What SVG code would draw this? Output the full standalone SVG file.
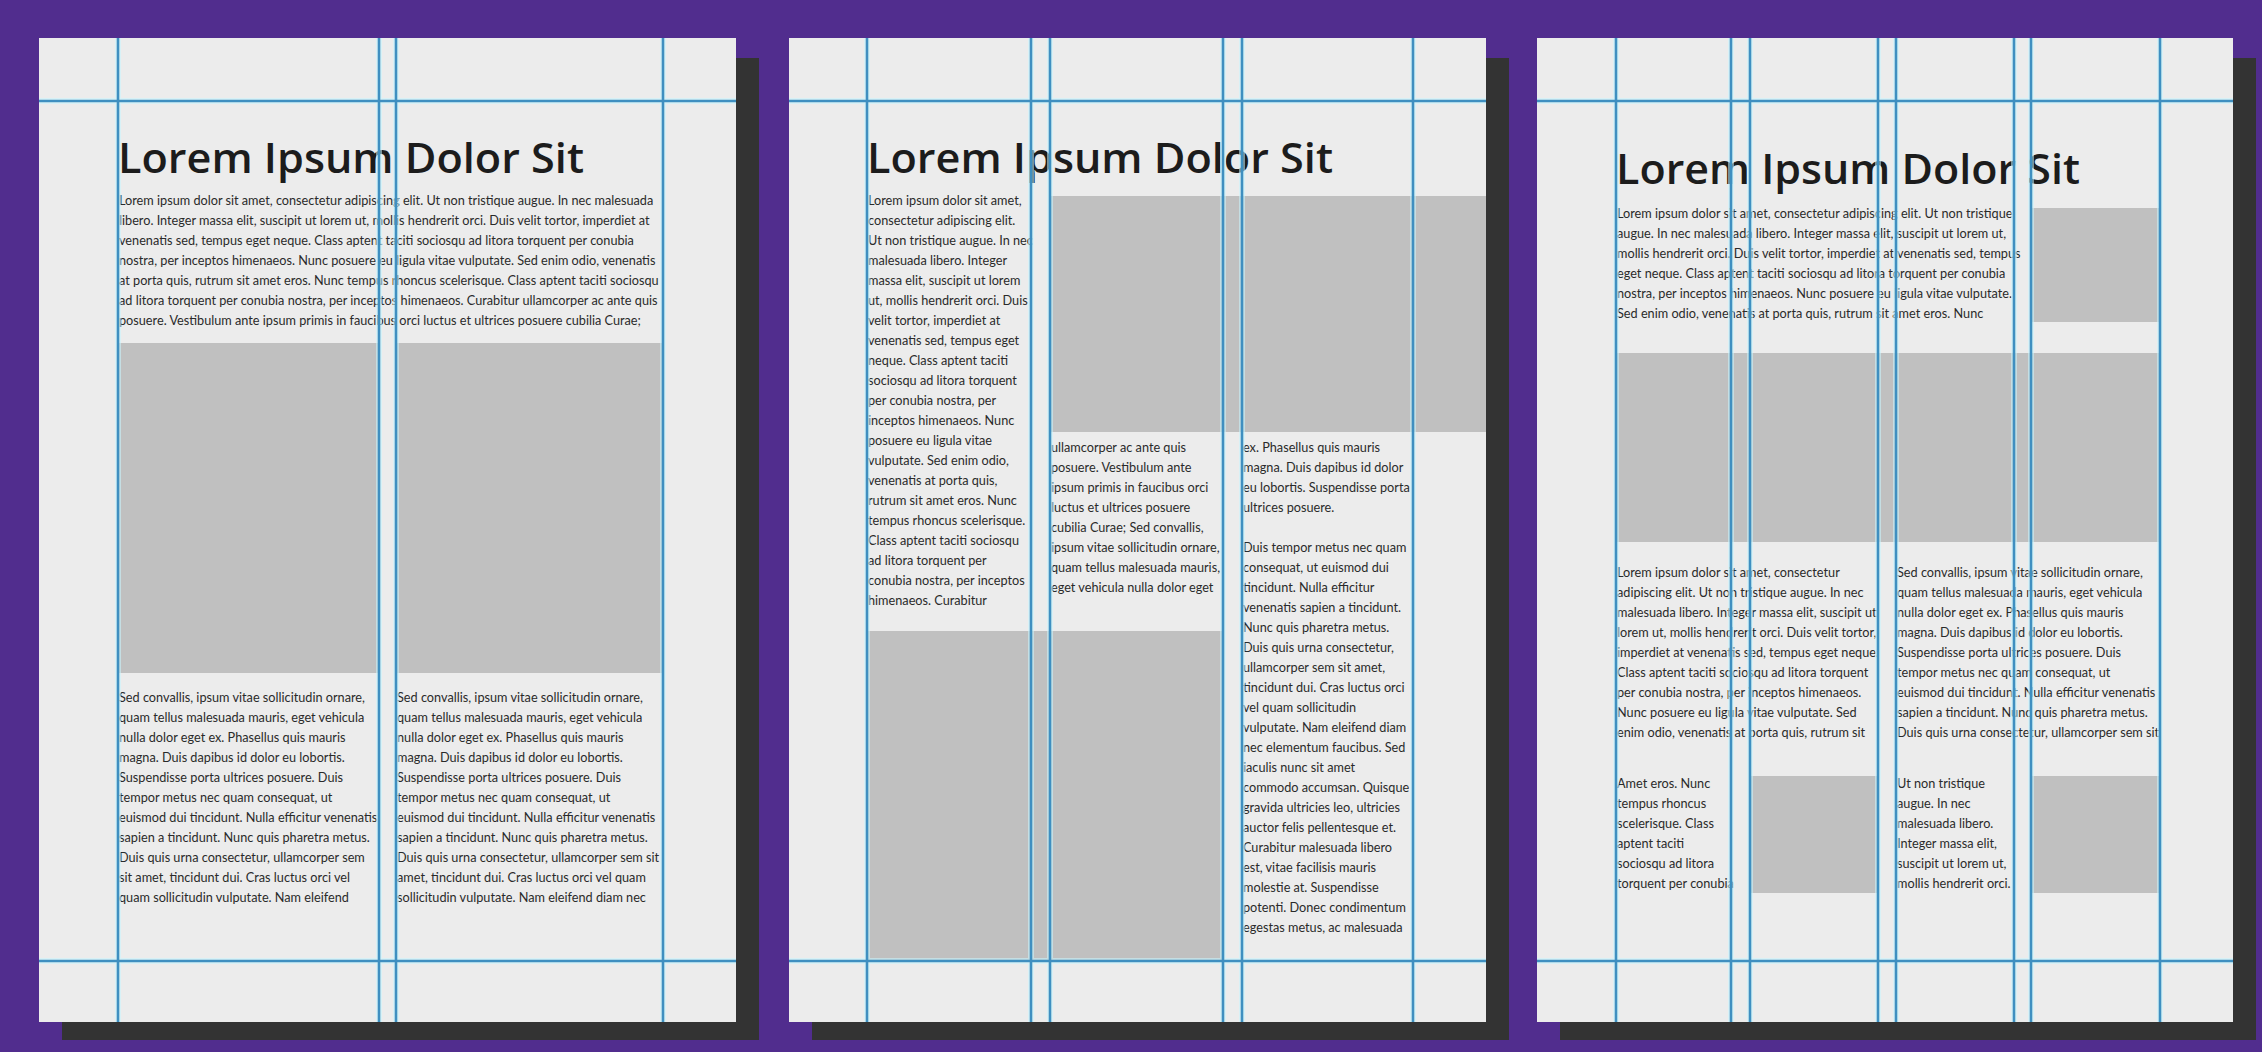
<svg xmlns="http://www.w3.org/2000/svg" width="2262" height="1052" viewBox="0 0 2262 1052">
<style>
.bg{fill:#512d8e}
.shadow{fill:#333333}
.sheet{fill:#ececec}
.img{fill:#c0c0c0}
.title{font-family:"Open Sans","Liberation Sans",sans-serif;font-weight:600;font-size:41px;fill:#1c1c1c}
.body{font-family:Lato,"Liberation Sans",sans-serif;font-size:12.7px;fill:#2a2a2a}
.halo{stroke:#c8f6ff;stroke-width:6;stroke-opacity:0.55;fill:none}
.core{stroke:#3f8fc0;stroke-width:2.6;fill:none}
</style>
<rect class="bg" x="0" y="0" width="2262" height="1052"/>

<g id="page1">
<rect class="shadow" x="62" y="58" width="697" height="982"/>
<rect class="sheet" x="39" y="38" width="697" height="984"/>
<rect class="img" x="118" y="343" width="261" height="330"/>
<rect class="img" x="396" y="343" width="267" height="330"/>
<text class="title" x="118" y="173" textLength="466" lengthAdjust="spacingAndGlyphs">Lorem Ipsum Dolor Sit</text>
<text class="body" x="119" y="205">
<tspan x="119" dy="0">Lorem ipsum dolor sit amet, consectetur adipiscing elit. Ut non tristique augue. In nec malesuada</tspan>
<tspan x="119" dy="20">libero. Integer massa elit, suscipit ut lorem ut, mollis hendrerit orci. Duis velit tortor, imperdiet at</tspan>
<tspan x="119" dy="20">venenatis sed, tempus eget neque. Class aptent taciti sociosqu ad litora torquent per conubia</tspan>
<tspan x="119" dy="20">nostra, per inceptos himenaeos. Nunc posuere eu ligula vitae vulputate. Sed enim odio, venenatis</tspan>
<tspan x="119" dy="20">at porta quis, rutrum sit amet eros. Nunc tempus rhoncus scelerisque. Class aptent taciti sociosqu</tspan>
<tspan x="119" dy="20">ad litora torquent per conubia nostra, per inceptos himenaeos. Curabitur ullamcorper ac ante quis</tspan>
<tspan x="119" dy="20">posuere. Vestibulum ante ipsum primis in faucibus orci luctus et ultrices posuere cubilia Curae;</tspan>
</text>
<text class="body" x="119" y="702">
<tspan x="119" dy="0">Sed convallis, ipsum vitae sollicitudin ornare,</tspan>
<tspan x="119" dy="20">quam tellus malesuada mauris, eget vehicula</tspan>
<tspan x="119" dy="20">nulla dolor eget ex. Phasellus quis mauris</tspan>
<tspan x="119" dy="20">magna. Duis dapibus id dolor eu lobortis.</tspan>
<tspan x="119" dy="20">Suspendisse porta ultrices posuere. Duis</tspan>
<tspan x="119" dy="20">tempor metus nec quam consequat, ut</tspan>
<tspan x="119" dy="20">euismod dui tincidunt. Nulla efficitur venenatis</tspan>
<tspan x="119" dy="20">sapien a tincidunt. Nunc quis pharetra metus.</tspan>
<tspan x="119" dy="20">Duis quis urna consectetur, ullamcorper sem</tspan>
<tspan x="119" dy="20">sit amet, tincidunt dui. Cras luctus orci vel</tspan>
<tspan x="119" dy="20">quam sollicitudin vulputate. Nam eleifend</tspan>
</text>
<text class="body" x="397" y="702">
<tspan x="397" dy="0">Sed convallis, ipsum vitae sollicitudin ornare,</tspan>
<tspan x="397" dy="20">quam tellus malesuada mauris, eget vehicula</tspan>
<tspan x="397" dy="20">nulla dolor eget ex. Phasellus quis mauris</tspan>
<tspan x="397" dy="20">magna. Duis dapibus id dolor eu lobortis.</tspan>
<tspan x="397" dy="20">Suspendisse porta ultrices posuere. Duis</tspan>
<tspan x="397" dy="20">tempor metus nec quam consequat, ut</tspan>
<tspan x="397" dy="20">euismod dui tincidunt. Nulla efficitur venenatis</tspan>
<tspan x="397" dy="20">sapien a tincidunt. Nunc quis pharetra metus.</tspan>
<tspan x="397" dy="20">Duis quis urna consectetur, ullamcorper sem sit</tspan>
<tspan x="397" dy="20">amet, tincidunt dui. Cras luctus orci vel quam</tspan>
<tspan x="397" dy="20">sollicitudin vulputate. Nam eleifend diam nec</tspan>
</text>
<g id="guides1">
<path class="halo" d="M39 101H736M39 961H736M118 38V1022M379 38V1022M396 38V1022M663 38V1022"/>
<path class="core" d="M39 101H736M39 961H736M118 38V1022M379 38V1022M396 38V1022M663 38V1022"/>
</g>
</g>

<g id="page2">
<rect class="shadow" x="812" y="58" width="697" height="982"/>
<rect class="sheet" x="789" y="38" width="697" height="984"/>
<rect class="img" x="1050" y="196" width="436" height="236"/>
<rect class="img" x="867" y="631" width="357" height="330"/>
<text class="title" x="867" y="173" textLength="466" lengthAdjust="spacingAndGlyphs">Lorem Ipsum Dolor Sit</text>
<text class="body" x="868" y="205">
<tspan x="868" dy="0">Lorem ipsum dolor sit amet,</tspan>
<tspan x="868" dy="20">consectetur adipiscing elit.</tspan>
<tspan x="868" dy="20">Ut non tristique augue. In nec</tspan>
<tspan x="868" dy="20">malesuada libero. Integer</tspan>
<tspan x="868" dy="20">massa elit, suscipit ut lorem</tspan>
<tspan x="868" dy="20">ut, mollis hendrerit orci. Duis</tspan>
<tspan x="868" dy="20">velit tortor, imperdiet at</tspan>
<tspan x="868" dy="20">venenatis sed, tempus eget</tspan>
<tspan x="868" dy="20">neque. Class aptent taciti</tspan>
<tspan x="868" dy="20">sociosqu ad litora torquent</tspan>
<tspan x="868" dy="20">per conubia nostra, per</tspan>
<tspan x="868" dy="20">inceptos himenaeos. Nunc</tspan>
<tspan x="868" dy="20">posuere eu ligula vitae</tspan>
<tspan x="868" dy="20">vulputate. Sed enim odio,</tspan>
<tspan x="868" dy="20">venenatis at porta quis,</tspan>
<tspan x="868" dy="20">rutrum sit amet eros. Nunc</tspan>
<tspan x="868" dy="20">tempus rhoncus scelerisque.</tspan>
<tspan x="868" dy="20">Class aptent taciti sociosqu</tspan>
<tspan x="868" dy="20">ad litora torquent per</tspan>
<tspan x="868" dy="20">conubia nostra, per inceptos</tspan>
<tspan x="868" dy="20">himenaeos. Curabitur</tspan>
</text>
<text class="body" x="1051" y="452">
<tspan x="1051" dy="0">ullamcorper ac ante quis</tspan>
<tspan x="1051" dy="20">posuere. Vestibulum ante</tspan>
<tspan x="1051" dy="20">ipsum primis in faucibus orci</tspan>
<tspan x="1051" dy="20">luctus et ultrices posuere</tspan>
<tspan x="1051" dy="20">cubilia Curae; Sed convallis,</tspan>
<tspan x="1051" dy="20">ipsum vitae sollicitudin ornare,</tspan>
<tspan x="1051" dy="20">quam tellus malesuada mauris,</tspan>
<tspan x="1051" dy="20">eget vehicula nulla dolor eget</tspan>
</text>
<text class="body" x="1243" y="452">
<tspan x="1243" dy="0">ex. Phasellus quis mauris</tspan>
<tspan x="1243" dy="20">magna. Duis dapibus id dolor</tspan>
<tspan x="1243" dy="20">eu lobortis. Suspendisse porta</tspan>
<tspan x="1243" dy="20">ultrices posuere.</tspan>
<tspan x="1243" dy="40">Duis tempor metus nec quam</tspan>
<tspan x="1243" dy="20">consequat, ut euismod dui</tspan>
<tspan x="1243" dy="20">tincidunt. Nulla efficitur</tspan>
<tspan x="1243" dy="20">venenatis sapien a tincidunt.</tspan>
<tspan x="1243" dy="20">Nunc quis pharetra metus.</tspan>
<tspan x="1243" dy="20">Duis quis urna consectetur,</tspan>
<tspan x="1243" dy="20">ullamcorper sem sit amet,</tspan>
<tspan x="1243" dy="20">tincidunt dui. Cras luctus orci</tspan>
<tspan x="1243" dy="20">vel quam sollicitudin</tspan>
<tspan x="1243" dy="20">vulputate. Nam eleifend diam</tspan>
<tspan x="1243" dy="20">nec elementum faucibus. Sed</tspan>
<tspan x="1243" dy="20">iaculis nunc sit amet</tspan>
<tspan x="1243" dy="20">commodo accumsan. Quisque</tspan>
<tspan x="1243" dy="20">gravida ultricies leo, ultricies</tspan>
<tspan x="1243" dy="20">auctor felis pellentesque et.</tspan>
<tspan x="1243" dy="20">Curabitur malesuada libero</tspan>
<tspan x="1243" dy="20">est, vitae facilisis mauris</tspan>
<tspan x="1243" dy="20">molestie at. Suspendisse</tspan>
<tspan x="1243" dy="20">potenti. Donec condimentum</tspan>
<tspan x="1243" dy="20">egestas metus, ac malesuada</tspan>
</text>
<g id="guides2">
<path class="halo" d="M789 101H1486M789 961H1486M867 38V1022M1031 38V1022M1050 38V1022M1223 38V1022M1242 38V1022M1413 38V1022"/>
<path class="core" d="M789 101H1486M789 961H1486M867 38V1022M1031 38V1022M1050 38V1022M1223 38V1022M1242 38V1022M1413 38V1022"/>
</g>
</g>

<g id="page3">
<rect class="shadow" x="1560" y="58" width="696" height="982"/>
<rect class="sheet" x="1537" y="38" width="696" height="984"/>
<rect class="img" x="2031" y="208" width="129" height="114"/>
<rect class="img" x="1616" y="353" width="544" height="189"/>
<rect class="img" x="1750" y="776" width="128" height="117"/>
<rect class="img" x="2031" y="776" width="129" height="117"/>
<text class="title" x="1616" y="184" textLength="464" lengthAdjust="spacingAndGlyphs">Lorem Ipsum Dolor Sit</text>
<text class="body" x="1617" y="218">
<tspan x="1617" dy="0">Lorem ipsum dolor sit amet, consectetur adipiscing elit. Ut non tristique</tspan>
<tspan x="1617" dy="20">augue. In nec malesuada libero. Integer massa elit, suscipit ut lorem ut,</tspan>
<tspan x="1617" dy="20">mollis hendrerit orci. Duis velit tortor, imperdiet at venenatis sed, tempus</tspan>
<tspan x="1617" dy="20">eget neque. Class aptent taciti sociosqu ad litora torquent per conubia</tspan>
<tspan x="1617" dy="20">nostra, per inceptos himenaeos. Nunc posuere eu ligula vitae vulputate.</tspan>
<tspan x="1617" dy="20">Sed enim odio, venenatis at porta quis, rutrum sit amet eros. Nunc</tspan>
</text>
<text class="body" x="1617" y="577">
<tspan x="1617" dy="0">Lorem ipsum dolor sit amet, consectetur</tspan>
<tspan x="1617" dy="20">adipiscing elit. Ut non tristique augue. In nec</tspan>
<tspan x="1617" dy="20">malesuada libero. Integer massa elit, suscipit ut</tspan>
<tspan x="1617" dy="20">lorem ut, mollis hendrerit orci. Duis velit tortor,</tspan>
<tspan x="1617" dy="20">imperdiet at venenatis sed, tempus eget neque.</tspan>
<tspan x="1617" dy="20">Class aptent taciti sociosqu ad litora torquent</tspan>
<tspan x="1617" dy="20">per conubia nostra, per inceptos himenaeos.</tspan>
<tspan x="1617" dy="20">Nunc posuere eu ligula vitae vulputate. Sed</tspan>
<tspan x="1617" dy="20">enim odio, venenatis at porta quis, rutrum sit</tspan>
</text>
<text class="body" x="1897" y="577">
<tspan x="1897" dy="0">Sed convallis, ipsum vitae sollicitudin ornare,</tspan>
<tspan x="1897" dy="20">quam tellus malesuada mauris, eget vehicula</tspan>
<tspan x="1897" dy="20">nulla dolor eget ex. Phasellus quis mauris</tspan>
<tspan x="1897" dy="20">magna. Duis dapibus id dolor eu lobortis.</tspan>
<tspan x="1897" dy="20">Suspendisse porta ultrices posuere. Duis</tspan>
<tspan x="1897" dy="20">tempor metus nec quam consequat, ut</tspan>
<tspan x="1897" dy="20">euismod dui tincidunt. Nulla efficitur venenatis</tspan>
<tspan x="1897" dy="20">sapien a tincidunt. Nunc quis pharetra metus.</tspan>
<tspan x="1897" dy="20">Duis quis urna consectetur, ullamcorper sem sit</tspan>
</text>
<text class="body" x="1617" y="788">
<tspan x="1617" dy="0">Amet eros. Nunc</tspan>
<tspan x="1617" dy="20">tempus rhoncus</tspan>
<tspan x="1617" dy="20">scelerisque. Class</tspan>
<tspan x="1617" dy="20">aptent taciti</tspan>
<tspan x="1617" dy="20">sociosqu ad litora</tspan>
<tspan x="1617" dy="20">torquent per conubia</tspan>
</text>
<text class="body" x="1897" y="788">
<tspan x="1897" dy="0">Ut non tristique</tspan>
<tspan x="1897" dy="20">augue. In nec</tspan>
<tspan x="1897" dy="20">malesuada libero.</tspan>
<tspan x="1897" dy="20">Integer massa elit,</tspan>
<tspan x="1897" dy="20">suscipit ut lorem ut,</tspan>
<tspan x="1897" dy="20">mollis hendrerit orci.</tspan>
</text>
<g id="guides3">
<path class="halo" d="M1537 101H2233M1537 961H2233M1616 38V1022M1731 38V1022M1750 38V1022M1878 38V1022M1896 38V1022M2014 38V1022M2031 38V1022M2160 38V1022"/>
<path class="core" d="M1537 101H2233M1537 961H2233M1616 38V1022M1731 38V1022M1750 38V1022M1878 38V1022M1896 38V1022M2014 38V1022M2031 38V1022M2160 38V1022"/>
</g>
</g>
</svg>
